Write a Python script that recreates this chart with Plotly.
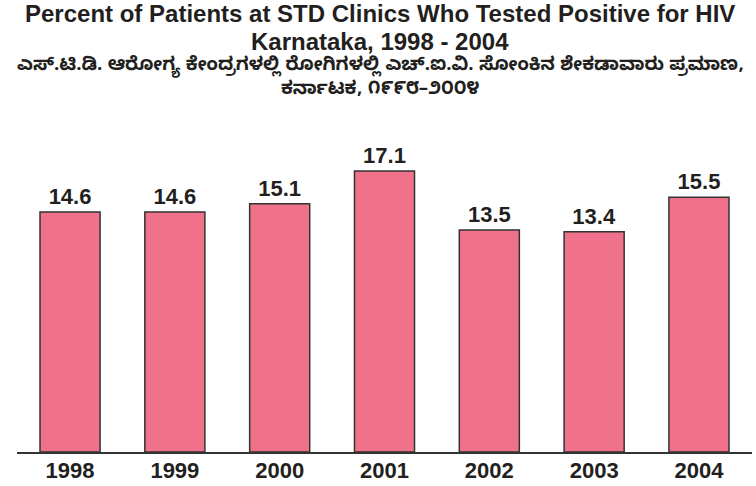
import plotly.graph_objects as go

years = ["1998", "1999", "2000", "2001", "2002", "2003", "2004"]
values = [14.6, 14.6, 15.1, 17.1, 13.5, 13.4, 15.5]
labels = ["14.6", "14.6", "15.1", "17.1", "13.5", "13.4", "15.5"]

title_en1 = "Percent of Patients at STD Clinics Who Tested Positive for HIV"
title_en2 = "Karnataka, 1998 - 2004"
title_kn1 = "ಎಸ್.ಟಿ.ಡಿ. ಆರೋಗ್ಯ ಕೇಂದ್ರಗಳಲ್ಲಿ ರೋಗಿಗಳಲ್ಲಿ ಎಚ್.ಐ.ವಿ. ಸೋಂಕಿನ ಶೇಕಡಾವಾರು ಪ್ರಮಾಣ,"
title_kn2 = "ಕರ್ನಾಟಕ, ೧೯೯೮–೨೦೦೪"

FONT = "Liberation Sans, Arial, sans-serif"
KFONT = "Noto Sans Kannada, Noto Sans, sans-serif"

TOP = 148
PLOT_H = 452 - TOP

fig = go.Figure(go.Bar(
    x=years, y=values,
    text=labels, textposition="outside",
    texttemplate="<b>%{text}</b>",
    textfont=dict(family=FONT, size=22, color="#231f20"),
    marker=dict(color="#F0718A", line=dict(color="#333333", width=1.5)),
    width=0.573,
    cliponaxis=False,
    hoverinfo="skip",
))

fig.update_layout(
    width=756, height=486,
    margin=dict(l=17, r=4, t=TOP, b=34, autoexpand=False),
    plot_bgcolor="white", paper_bgcolor="white",
    showlegend=False,
    xaxis=dict(
        type="category", range=[-0.506, 6.506], automargin=False,
        showline=True, linecolor="#333333", linewidth=1.5,
        ticks="", showgrid=False,
        tickvals=years, ticktext=["<b>%s</b>" % y for y in years],
        tickfont=dict(family=FONT, size=22, color="#231f20"),
        ticklabelstandoff=-2,
    ),
    yaxis=dict(range=[0, PLOT_H / 16.44], visible=False, showgrid=False, automargin=False),
)

anns = [
    (title_en1, 13, 24, FONT),
    (title_en2, 41, 24, FONT),
    (title_kn1, 67, 18.6, KFONT),
    (title_kn2, 91, 18.6, KFONT),
]
for txt, ypx, size, fam in anns:
    fig.add_annotation(
        text="<b>%s</b>" % txt, xref="paper", yref="paper",
        x=(380 - 17) / 735.0, xanchor="center",
        y=1 + (TOP - ypx) / float(PLOT_H), yanchor="middle",
        showarrow=False,
        font=dict(family=fam, size=size, color="#231f20"),
    )

fig.write_html(
    "out.html",
    config={"displayModeBar": False},
    post_script="document.body.style.margin='0px';document.body.style.overflow='hidden';",
)
